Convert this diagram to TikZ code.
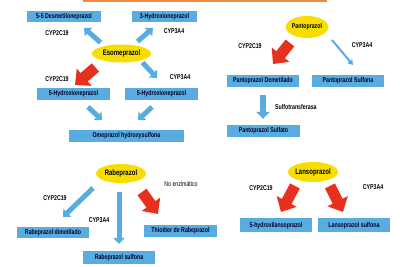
\documentclass[tikz,border=0pt]{standalone}
\usepackage{fontspec}
\setmainfont{Liberation Sans}[FakeStretch=0.75]
\usetikzlibrary{arrows.meta, shapes.geometric}
\definecolor{cbox}{HTML}{58ACE0}
\definecolor{cyel}{HTML}{F7DE00}
\definecolor{cred}{HTML}{E8301E}
\definecolor{cora}{HTML}{F08A3C}

\begin{document}
\begin{tikzpicture}[x=1pt, y=-1pt,
  font=\fontsize{7}{8}\selectfont\bfseries,
  box/.style={fill=cbox, text=black!85!blue, minimum width=72pt, minimum height=12pt, inner sep=0pt},
  drug/.style={ellipse, fill=cyel, inner sep=0pt, font=\fontsize{8}{9}\selectfont\bfseries},
  enz/.style={inner sep=0pt},
  barrow/.style={draw=cbox, line width=5pt, -{Triangle[length=6pt, width=11pt]}},
  thinarrow/.style={draw=cbox, line width=2pt, -{Triangle[length=5pt, width=6pt]}},
  rarrow/.style={draw=cred, line width=11pt, -{Triangle[length=12pt, width=22pt]}},
  ]
\useasboundingbox (0,0) rectangle (400,267);
\fill[cora] (83,0) rectangle (327,2.5);

% esomeprazol
\node[drug, minimum width=59pt, minimum height=18pt] (eso) at (121.5,53.5) {Esomeprazol};
\node[box, minimum width=74pt, minimum height=11pt] (dm) at (64,16.5) {5-5 Desmetiloneprazol};
\node[box, minimum width=65pt, minimum height=11pt] (hx) at (164.5,16.5) {3-Hydroxioneprazol};
\node[box, minimum width=73pt] (hl) at (73.5,94) {5-Hydroxioneprazol};
\node[box, minimum width=73pt] (hr) at (161.5,94) {5-Hydroxioneprazol};
\node[box, minimum width=115pt] (ohs) at (126.5,136) {Omeprazol hydroxysulfona};
\node[enz] (e1) at (57,33) {CYP2C19};
\node[enz] (e2) at (174,31) {CYP3A4};
\node[enz] (e3) at (57,79) {CYP2C19};
\node[enz] (e4) at (180,77) {CYP3A4};
\draw[barrow] ([shift={(-21,-11)}]eso.center) -- ([shift={(20,11.5)}]dm.center);
\draw[barrow] ([shift={(16,-12)}]eso.center) -- ([shift={(-11.5,11.5)}]hx.center);
\draw[rarrow] ([shift={(-26,14)}]eso.center) -- ([shift={(1.5,-9)}]hl.center);
\draw[barrow] ([shift={(21,9)}]eso.center) -- ([shift={(-4.5,-16)}]hr.center);
\draw[barrow] ([shift={(14.5,13)}]hl.center) -- ([shift={(-24.5,-16)}]ohs.center);
\draw[barrow] ([shift={(-9.5,13)}]hr.center) -- ([shift={(11.5,-16)}]ohs.center);

% pantoprazol
\node[drug, minimum width=42pt, minimum height=22pt, font=\fontsize{7}{8}\selectfont\bfseries] (pan) at (307,27) {Pantoprazol};
\node[box] (pd) at (263,81) {Pantoprazol Demetilado};
\node[box] (ps) at (348,81) {Pantoprazol Sulfona};
\node[box, minimum width=73pt] (psu) at (263.5,131) {Pantoprazol Sulfato};
\node[enz] (e5) at (250,46) {CYP2C19};
\node[enz] (e6) at (362,45) {CYP3A4};
\node[enz, anchor=west] (e7) at (275,107) {Sulfotransferasa};
\draw[rarrow] ([shift={(-17,16)}]pan.center) -- ([shift={(10,-17)}]pd.center);
\draw[thinarrow] ([shift={(25,13)}]pan.center) -- ([shift={(5,-16)}]ps.center);
\draw[barrow, line width=6pt, -{Triangle[length=7pt, width=13pt]}]
  ([shift={(0,8)}]pd.south) -- ([shift={(-0.5,-6)}]psu.north);

% rabeprazol
\node[drug, minimum width=50pt, minimum height=19pt] (rab) at (121,173.5) {Rabeprazol};
\node[box, minimum height=11pt] (rd) at (53,233) {Rabeprazol dimetilado};
\node[box, minimum width=73pt] (rt) at (180.5,231) {Thioéter de Rabeprazol};
\node[box, minimum height=13pt] (rs) at (119,257.5) {Rabeprazol sulfona};
\node[enz] (e8) at (55,198) {CYP2C19};
\node[enz] (e9) at (99,220) {CYP3A4};
\node[enz, font=\fontsize{7}{8}\selectfont] (e10) at (181,184) {No enzimático};
\draw[barrow] ([shift={(-28,14.5)}]rab.center) -- ([shift={(10,-16)}]rd.center);
\draw[barrow] ([shift={(-2,18.5)}]rab.center) -- ([shift={(0,-13.5)}]rs.center);
\draw[rarrow] ([shift={(21,18.5)}]rab.center) -- ([shift={(-22.5,-17)}]rt.center);

% lansoprazol
\node[drug, minimum width=50pt, minimum height=20pt] (lan) at (313,172) {Lansoprazol};
\node[box, minimum height=14pt] (lh) at (276,225.5) {5-hydroxilansoprazol};
\node[box, minimum height=14pt] (ls) at (354,225.5) {Lansoprazol sulfona};
\node[enz] (e11) at (261,188) {CYP2C19};
\node[enz] (e12) at (373,187) {CYP3A4};
\draw[rarrow] ([shift={(-18,14)}]lan.center) -- ([shift={(5,-13.5)}]lh.center);
\draw[rarrow] ([shift={(17,14)}]lan.center) -- ([shift={(-11,-13.5)}]ls.center);
\end{tikzpicture}
\end{document}
